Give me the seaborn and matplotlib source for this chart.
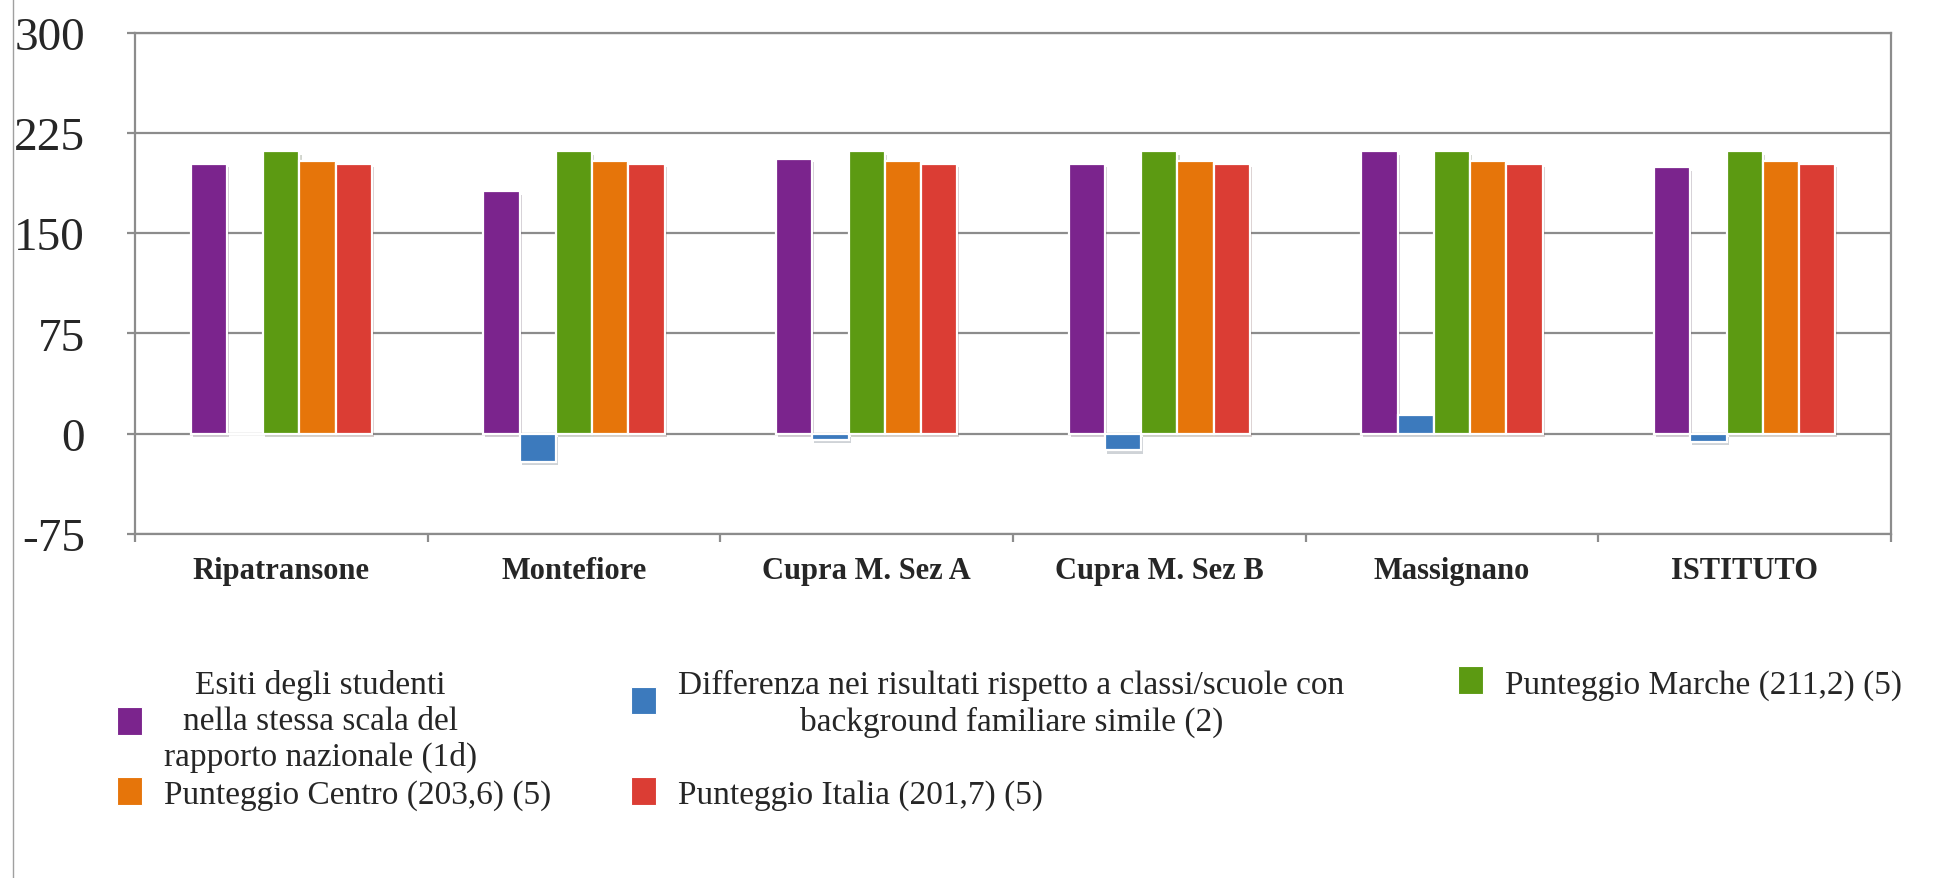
import matplotlib
matplotlib.use("Agg")
import matplotlib.pyplot as plt
import matplotlib.patheffects as pe
from matplotlib.lines import Line2D
from matplotlib.patches import Patch
from matplotlib.ticker import FixedLocator
import numpy as np
import pandas as pd
import seaborn as sns

# Data
categories = ["Ripatransone", "Montefiore", "Cupra M. Sez A", "Cupra M. Sez B", "Massignano", "ISTITUTO"]
esiti = [201.7, 181.4, 205.4, 201.7, 211.2, 199.2]
differenza = [0.0, -21.0, -4.5, -12.5, 14.0, -6.0]
marche = [211.2, 211.2, 211.2, 211.2, 211.2, 211.2]
centro = [203.6, 203.6, 203.6, 203.6, 203.6, 203.6]
italia = [201.7, 201.7, 201.7, 201.7, 201.7, 201.7]

series_labels = [
    "Esiti degli studenti\nnella stessa scala del\nrapporto nazionale (1d)",
    "Differenza nei risultati rispetto a classi/scuole con\nbackground familiare simile (2)",
    "Punteggio Marche (211,2) (5)",
    "Punteggio Centro (203,6) (5)",
    "Punteggio Italia (201,7) (5)",
]
series_colors = ["#7B248D", "#3C7ABD", "#5C9A12", "#E6750A", "#DB3D34"]
y_ticks = [-75, 0, 75, 150, 225, 300]

df = pd.DataFrame({
    "scuola": categories * 5,
    "serie": np.repeat(series_labels, len(categories)),
    "valore": esiti + differenza + marche + centro + italia,
})

sns.set_theme(style="white")
plt.rcParams["font.family"] = ["Liberation Serif", "DejaVu Serif"]
plt.rcParams["axes.unicode_minus"] = False

W, H = 1948, 879
fig = plt.figure(figsize=(W / 100, H / 100), dpi=100)
ax = fig.add_axes([135 / W, 1 - 535 / H, (1891 - 135) / W, (535 - 33.5) / H])

grey = "#8c8c8c"
sns.barplot(data=df, x="scuola", y="valore", hue="serie", hue_order=series_labels,
            palette=series_colors, saturation=1, width=0.62, errorbar=None,
            edgecolor="white", linewidth=1.6, legend=False, ax=ax)

# soft shadow under the bars
for p in ax.patches:
    p.set_path_effects([pe.SimplePatchShadow(offset=(1.5, -2.5), alpha=0.2), pe.Normal()])

ax.set_ylim(-75, 300)
ax.set_xlim(-0.5, len(categories) - 0.5)
ax.set_yticks(y_ticks)
ax.set_yticklabels([str(v) for v in y_ticks])
ax.yaxis.grid(True, color=grey, linewidth=1.6)
ax.set_axisbelow(True)
for s in ax.spines.values():
    s.set_visible(True)
    s.set_color(grey)
    s.set_linewidth(1.6)

ax.set_xlabel("")
ax.set_ylabel("")
ax.tick_params(axis="y", left=True, length=6, width=1.6, color=grey, pad=30, labelsize=34)
ax.tick_params(axis="x", which="major", length=0, pad=16, labelsize=22)
ax.xaxis.set_minor_locator(FixedLocator(np.arange(-0.5, len(categories), 1.0)))
ax.tick_params(axis="x", which="minor", bottom=True, length=6, width=1.6, color=grey, direction="out")
for lbl in ax.get_xticklabels():
    lbl.set_fontweight("bold")

# legend, filled row by row (purple, blue, green / orange, red)
leg_size = 24
leg_spacing = 1.22
order = [0, 3, 1, 4, 2]
handles = [Patch(facecolor=series_colors[i], edgecolor="white", linewidth=0.8) for i in order]
labels = [series_labels[i] for i in order]
# blue: trailing spaces widen its column, extra line keeps the rows aligned
labels[2] = "\n".join(line + "    " for line in labels[2].split("\n")) + "\n"
labels[4] = labels[4] + "\n\n"  # green: same row alignment trick
leg = fig.legend(handles, labels, ncol=3, loc="upper left",
                 bbox_to_anchor=(117 / W, 1 - 670 / H), frameon=False, fontsize=leg_size,
                 handlelength=0.75, handleheight=0.9, handletextpad=0.66,
                 columnspacing=2.4, labelspacing=0.15, borderpad=0, borderaxespad=0)
for t in leg.get_texts():
    t.set_multialignment("center")
    t.set_linespacing(leg_spacing)
line_pt = leg_size * leg_spacing
blue_handle = leg.legend_handles[2]
blue_handle.set_y(blue_handle.get_y() + 0.5 * line_pt)
green_handle = leg.legend_handles[4]
green_handle.set_y(green_handle.get_y() + line_pt)

fig.add_artist(Line2D([13 / W, 13 / W], [0, 1], transform=fig.transFigure, color="#a0a0a0", lw=1))

fig.savefig("out.png", dpi=100)
